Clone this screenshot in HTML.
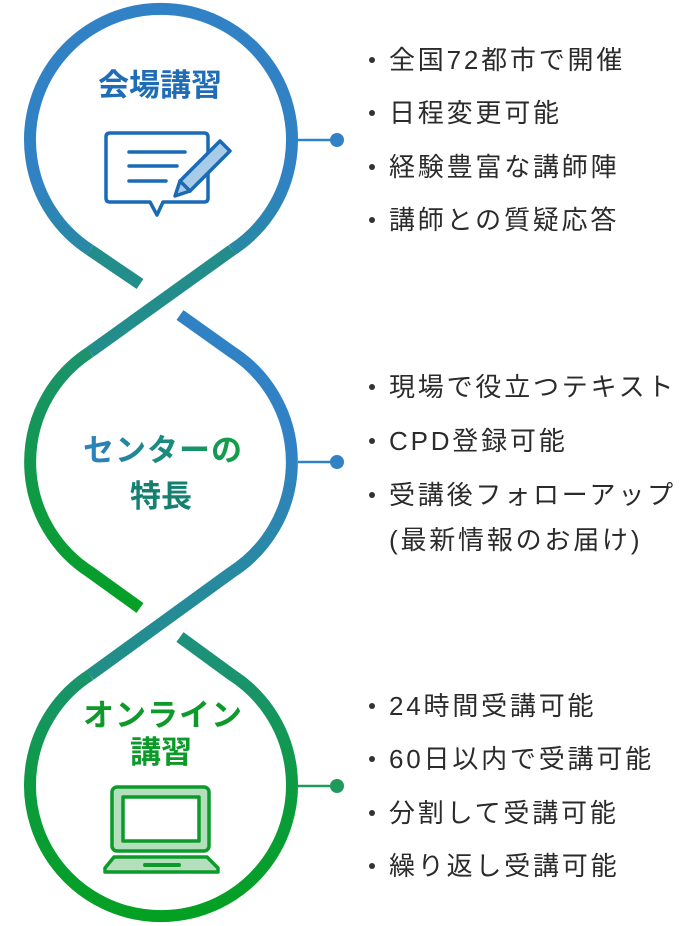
<!DOCTYPE html>
<html><head><meta charset="utf-8"><style>
html,body{margin:0;padding:0;background:#fff;}
svg{display:block;}
text{font-family:"Liberation Sans","Noto Sans CJK JP",sans-serif;}
</style></head><body>
<svg width="686" height="926" viewBox="0 0 686 926" xmlns="http://www.w3.org/2000/svg">
<defs>
<linearGradient id="gTop" gradientUnits="userSpaceOnUse" x1="0" y1="0" x2="0" y2="290"><stop offset="0" stop-color="#3182c5"/><stop offset="0.6" stop-color="#3182c5"/><stop offset="1" stop-color="#238c92"/></linearGradient>
<linearGradient id="gML" gradientUnits="userSpaceOnUse" x1="0" y1="300" x2="0" y2="615"><stop offset="0" stop-color="#20907c"/><stop offset="1" stop-color="#04a022"/></linearGradient>
<linearGradient id="gMR" gradientUnits="userSpaceOnUse" x1="0" y1="315" x2="0" y2="690"><stop offset="0" stop-color="#3182c5"/><stop offset="0.35" stop-color="#3182c5"/><stop offset="1" stop-color="#1f9080"/></linearGradient>
<linearGradient id="gBot" gradientUnits="userSpaceOnUse" x1="0" y1="630" x2="0" y2="920"><stop offset="0" stop-color="#1f9080"/><stop offset="0.6" stop-color="#0a9c3a"/><stop offset="1" stop-color="#04a022"/></linearGradient>
<linearGradient id="gTxt" gradientUnits="userSpaceOnUse" x1="80" y1="0" x2="245" y2="0"><stop offset="0" stop-color="#2f80c4"/><stop offset="0.5" stop-color="#1a8a80"/><stop offset="1" stop-color="#13a040"/></linearGradient>
</defs>
<g fill="none" stroke-width="12">
<path d="M90 250 A131 131 0 1 1 232 250" stroke="url(#gTop)"/>
<path d="M140 284 L90 250" stroke="#238d8c"/>
<path d="M232 250 L90 352" stroke="#238d8c"/>
<path d="M90 352 A131 131 0 0 0 90 572 L140 608" stroke="url(#gML)"/>
<path d="M180 315 L232 352 A131 131 0 0 1 232 572 L90 675" stroke="url(#gMR)"/>
<path d="M180 637 L232 675 A131 131 0 1 1 90 675" stroke="url(#gBot)"/>
</g>
<g stroke-width="2.5"><line x1="298" y1="140" x2="337" y2="140" stroke="#3182c5"/><line x1="298" y1="462" x2="337" y2="462" stroke="#3182c5"/><line x1="298" y1="786" x2="337" y2="786" stroke="#1f9a5a"/></g>
<circle cx="337" cy="140" r="7" fill="#3182c5"/><circle cx="337" cy="462" r="7" fill="#3182c5"/><circle cx="337" cy="786" r="7" fill="#1f9a5a"/>
<g font-weight="bold" font-size="31" text-anchor="middle">
<text x="160" y="96" fill="#1f6db7">会場講習</text>
<text x="163" y="461" fill="url(#gTxt)" letter-spacing="1">センターの</text>
<text x="161" y="507" fill="#168070">特長</text>
<text x="163" y="726" fill="#0d9a2a" letter-spacing="1">オンライン</text>
<text x="161" y="763" fill="#0d9a2a">講習</text>
</g>
<g fill="none" stroke="#1a6ab5" stroke-width="3.5" stroke-linejoin="round" stroke-linecap="round">
<path d="M110 133 H204 Q208 133 208 137 V198 Q208 202 204 202 H163 L157 215 L150 202 H110 Q106 202 106 198 V137 Q106 133 110 133 Z" fill="#fff"/>
<line x1="129" y1="152" x2="185" y2="152"/><line x1="129" y1="166" x2="177" y2="166"/><line x1="129" y1="181" x2="166" y2="181"/>
<path d="M220 141 L230 151 L190 191 L175 196 L180 181 Z" fill="#a8cbe8"/>
<path d="M180 181 L190 191"/>
</g>
<g stroke="#0c9b2a" stroke-width="3.5" stroke-linejoin="round">
<rect x="112" y="787" width="97" height="64" rx="5" fill="#b3dfbd"/>
<rect x="123" y="797" width="76" height="44" fill="#fff"/>
<path d="M114 857 H207 L218 868 V872 H105 V868 Z" fill="#b3dfbd"/>
</g>
<rect x="143" y="863" width="38" height="4" rx="2" fill="#0c9b2a"/>
<g font-size="26" fill="#2b2b2b" letter-spacing="2.8">
<g fill="#333"><circle cx="372" cy="60" r="3"/><circle cx="372" cy="113" r="3"/><circle cx="372" cy="167" r="3"/><circle cx="372" cy="220" r="3"/>
<circle cx="372" cy="387" r="3"/><circle cx="372" cy="441" r="3"/><circle cx="372" cy="495" r="3"/>
<circle cx="372" cy="706" r="3"/><circle cx="372" cy="759" r="3"/><circle cx="372" cy="813" r="3"/><circle cx="372" cy="866" r="3"/></g>
<text x="389" y="69">全国72都市で開催</text>
<text x="389" y="122">日程変更可能</text>
<text x="389" y="176">経験豊富な講師陣</text>
<text x="389" y="229">講師との質疑応答</text>
<text x="389" y="396">現場で役立つテキスト</text>
<text x="389" y="450">CPD登録可能</text>
<text x="389" y="504">受講後フォローアップ</text>
<text x="389" y="549">(最新情報のお届け)</text>
<text x="389" y="715">24時間受講可能</text>
<text x="389" y="768">60日以内で受講可能</text>
<text x="389" y="822">分割して受講可能</text>
<text x="389" y="875">繰り返し受講可能</text>
</g>
</svg>
</body></html>
